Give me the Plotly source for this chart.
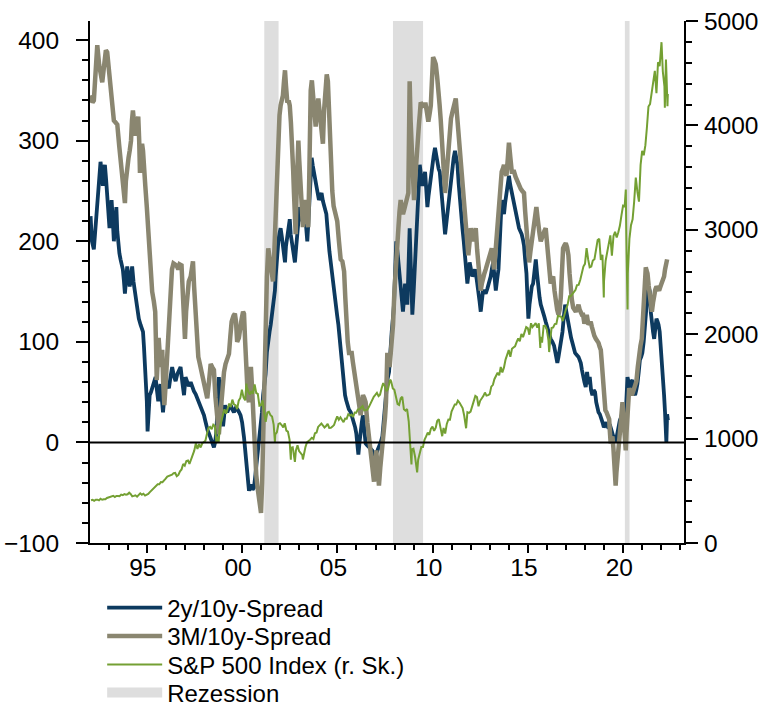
import plotly.graph_objects as go
from datetime import datetime

# ---------------- data ----------------
# 2y/10y spread (bp): (decimal year, value)
spread_2y10y = [
    (1992.05, 225), (1992.12, 200), (1992.22, 192), (1992.31, 217), (1992.4, 245), (1992.5, 262),
    (1992.57, 279), (1992.63, 270), (1992.69, 255), (1992.75, 268), (1992.8, 276), (1992.86, 262),
    (1992.92, 241), (1992.98, 230), (1993.04, 213), (1993.1, 228), (1993.15, 241), (1993.21, 222),
    (1993.27, 200), (1993.33, 215), (1993.4, 234), (1993.45, 210), (1993.5, 193), (1993.56, 188),
    (1993.62, 182), (1993.68, 176), (1993.74, 172), (1993.8, 160), (1993.85, 148), (1993.91, 162),
    (1993.97, 175), (1994.04, 165), (1994.1, 155), (1994.17, 165), (1994.23, 175), (1994.3, 160),
    (1994.375, 151), (1994.44, 140), (1994.5, 130), (1994.58, 123), (1994.67, 117), (1994.74, 113),
    (1994.8, 110), (1994.85, 95), (1994.9, 79), (1994.96, 60), (1995.0, 41), (1995.04, 11),
    (1995.1, 30), (1995.15, 47), (1995.22, 50), (1995.28, 54), (1995.36, 60), (1995.46, 65),
    (1995.53, 52), (1995.6, 41), (1995.66, 50), (1995.72, 58), (1995.78, 45), (1995.85, 30),
    (1995.92, 45), (1995.98, 61), (1996.07, 57), (1996.16, 54), (1996.25, 66), (1996.33, 75),
    (1996.42, 66), (1996.51, 61), (1996.6, 68), (1996.68, 72), (1996.77, 75), (1996.86, 60),
    (1996.95, 47), (1997.03, 65), (1997.12, 61), (1997.2, 56), (1997.3, 60), (1997.4, 54),
    (1997.47, 51), (1997.56, 48), (1997.65, 44), (1997.74, 40), (1997.82, 37), (1997.9, 32),
    (1998.0, 27), (1998.06, 22), (1998.12, 16), (1998.19, 12), (1998.26, 9), (1998.33, 5),
    (1998.4, 2), (1998.46, -2), (1998.52, -5), (1998.58, 0), (1998.64, 9), (1998.7, 30),
    (1998.75, 60), (1998.78, 65), (1998.83, 52), (1998.87, 47), (1998.94, 30), (1999.0, 16),
    (1999.05, 25), (1999.1, 37), (1999.16, 33), (1999.22, 30), (1999.3, 34), (1999.4, 37),
    (1999.48, 33), (1999.57, 30), (1999.66, 34), (1999.75, 33), (1999.84, 30), (1999.92, 27),
    (2000.0, 20), (2000.04, 16), (2000.1, 5), (2000.15, -5), (2000.21, -15), (2000.27, -25),
    (2000.32, -40), (2000.36, -48), (2000.42, -44), (2000.48, -42), (2000.55, -47), (2000.62, -45),
    (2000.68, -35), (2000.74, -25), (2000.8, -15), (2000.85, -8), (2000.92, 5), (2000.97, 13),
    (2001.04, 30), (2001.1, 47), (2001.17, 58), (2001.23, 68), (2001.3, 90), (2001.37, 103),
    (2001.44, 110), (2001.5, 117), (2001.56, 125), (2001.62, 134), (2001.68, 145), (2001.72, 151),
    (2001.76, 165), (2001.8, 179), (2001.85, 190), (2001.9, 200), (2001.96, 208), (2002.02, 213),
    (2002.08, 205), (2002.14, 196), (2002.2, 188), (2002.25, 179), (2002.3, 195), (2002.37, 207),
    (2002.44, 218), (2002.5, 222), (2002.55, 207), (2002.61, 200), (2002.67, 193), (2002.72, 186),
    (2002.77, 179), (2002.84, 195), (2002.9, 207), (2002.96, 220), (2003.02, 234), (2003.09, 228),
    (2003.16, 220), (2003.23, 224), (2003.3, 227), (2003.36, 214), (2003.42, 200), (2003.48, 220),
    (2003.54, 241), (2003.6, 265), (2003.65, 283), (2003.71, 275), (2003.77, 269), (2003.83, 262),
    (2003.89, 255), (2003.96, 248), (2004.03, 241), (2004.1, 245), (2004.17, 248), (2004.24, 240),
    (2004.3, 234), (2004.36, 230), (2004.42, 227), (2004.47, 215), (2004.52, 200), (2004.58, 190),
    (2004.65, 179), (2004.71, 168), (2004.77, 158), (2004.84, 147), (2004.91, 137), (2004.98, 127),
    (2005.05, 117), (2005.11, 103), (2005.17, 89), (2005.23, 78), (2005.29, 68), (2005.35, 57),
    (2005.4, 47), (2005.46, 42), (2005.52, 37), (2005.6, 33), (2005.7, 30), (2005.78, 25),
    (2005.87, 20), (2005.93, 15), (2005.99, 9), (2006.05, -2), (2006.1, -12), (2006.16, 0),
    (2006.22, 13), (2006.28, 20), (2006.34, 27), (2006.41, 12), (2006.48, -1), (2006.57, -3),
    (2006.66, -5), (2006.75, -7), (2006.83, -8), (2006.92, -13), (2007.01, -12), (2007.1, -8),
    (2007.18, -5), (2007.27, 0), (2007.36, 6), (2007.45, 25), (2007.53, 51), (2007.62, 62),
    (2007.71, 70), (2007.78, 95), (2007.85, 110), (2007.92, 125), (2007.97, 137), (2008.03, 170),
    (2008.09, 200), (2008.15, 190), (2008.2, 179), (2008.26, 168), (2008.32, 158), (2008.38, 144),
    (2008.44, 130), (2008.5, 144), (2008.55, 158), (2008.61, 148), (2008.67, 137), (2008.73, 175),
    (2008.79, 213), (2008.86, 170), (2008.93, 127), (2009.0, 150), (2009.07, 179), (2009.13, 196),
    (2009.2, 213), (2009.26, 245), (2009.32, 276), (2009.39, 265), (2009.46, 255), (2009.53, 262),
    (2009.6, 269), (2009.66, 252), (2009.72, 234), (2009.78, 245), (2009.84, 255), (2009.91, 265),
    (2009.98, 276), (2010.05, 285), (2010.12, 293), (2010.18, 285), (2010.25, 276), (2010.31, 272),
    (2010.37, 269), (2010.44, 252), (2010.51, 234), (2010.58, 220), (2010.65, 207), (2010.71, 217),
    (2010.77, 227), (2010.83, 241), (2010.89, 255), (2010.96, 265), (2011.03, 276), (2011.1, 283),
    (2011.17, 290), (2011.23, 283), (2011.3, 276), (2011.36, 258), (2011.42, 241), (2011.49, 227),
    (2011.56, 213), (2011.63, 200), (2011.7, 186), (2011.76, 172), (2011.82, 158), (2011.88, 168),
    (2011.94, 179), (2012.01, 172), (2012.08, 165), (2012.15, 168), (2012.22, 172), (2012.31, 162),
    (2012.4, 151), (2012.46, 140), (2012.52, 130), (2012.58, 140), (2012.64, 151), (2012.71, 150),
    (2012.78, 148), (2012.87, 153), (2012.96, 158), (2013.04, 165), (2013.1, 172), (2013.17, 179),
    (2013.24, 165), (2013.31, 151), (2013.38, 162), (2013.45, 172), (2013.52, 200), (2013.57, 220),
    (2013.62, 241), (2013.68, 234), (2013.74, 227), (2013.8, 238), (2013.87, 248), (2013.94, 258),
    (2014.0, 265), (2014.07, 256), (2014.15, 248), (2014.21, 241), (2014.27, 234), (2014.33, 230),
    (2014.39, 227), (2014.46, 220), (2014.53, 213), (2014.6, 210), (2014.67, 207), (2014.73, 202),
    (2014.79, 196), (2014.85, 182), (2014.92, 168), (2014.97, 145), (2015.02, 123), (2015.08, 137),
    (2015.14, 151), (2015.2, 155), (2015.27, 158), (2015.34, 170), (2015.41, 182), (2015.48, 167),
    (2015.55, 151), (2015.61, 144), (2015.67, 137), (2015.73, 134), (2015.79, 130), (2015.86, 125),
    (2015.93, 120), (2016.0, 115), (2016.07, 110), (2016.13, 106), (2016.19, 103), (2016.28, 100),
    (2016.37, 96), (2016.45, 88), (2016.54, 79), (2016.6, 85), (2016.67, 92), (2016.74, 100),
    (2016.81, 110), (2016.88, 125), (2016.95, 137), (2017.01, 130), (2017.07, 123), (2017.13, 116),
    (2017.19, 110), (2017.26, 104), (2017.33, 99), (2017.4, 94), (2017.47, 89), (2017.56, 87),
    (2017.65, 85), (2017.71, 82), (2017.77, 79), (2017.83, 72), (2017.89, 65), (2017.96, 60),
    (2018.03, 55), (2018.1, 70), (2018.17, 58), (2018.24, 65), (2018.31, 52), (2018.38, 47),
    (2018.45, 52), (2018.52, 50), (2018.58, 40), (2018.64, 33), (2018.7, 30), (2018.77, 28),
    (2018.84, 25), (2018.91, 20), (2018.98, 15), (2019.05, 18), (2019.11, 20), (2019.17, 16),
    (2019.23, 14), (2019.29, 18), (2019.36, 14), (2019.43, 10), (2019.5, 5), (2019.57, 0),
    (2019.63, 3), (2019.69, 10), (2019.76, 18), (2019.82, 22), (2019.89, 25), (2019.96, 30),
    (2020.03, 25), (2020.1, 20), (2020.16, 40), (2020.22, 65), (2020.28, 60), (2020.34, 54),
    (2020.41, 60), (2020.48, 62), (2020.55, 50), (2020.62, 47), (2020.68, 52), (2020.74, 58),
    (2020.81, 70), (2020.87, 82), (2020.94, 85), (2021.0, 89), (2021.07, 100), (2021.15, 120),
    (2021.21, 140), (2021.27, 148), (2021.33, 155), (2021.39, 150), (2021.44, 130), (2021.5, 117),
    (2021.56, 110), (2021.62, 103), (2021.68, 115), (2021.74, 123), (2021.8, 120), (2021.85, 117),
    (2021.91, 110), (2021.97, 95), (2022.02, 85), (2022.06, 72), (2022.1, 60), (2022.14, 47),
    (2022.19, 30), (2022.23, 12), (2022.26, 0), (2022.3, 28), (2022.34, 22),
]

# 3M/10y spread (bp): (decimal year, value)
spread_3m10y = [
    (1992.05, 345), (1992.15, 338), (1992.22, 340), (1992.3, 370), (1992.4, 395), (1992.5, 375),
    (1992.58, 365), (1992.66, 358), (1992.76, 375), (1992.85, 390), (1992.92, 388), (1993.0, 372),
    (1993.1, 355), (1993.18, 340), (1993.27, 320), (1993.36, 318), (1993.45, 316), (1993.55, 295),
    (1993.62, 280), (1993.72, 262), (1993.8, 245), (1993.85, 238), (1993.9, 260), (1993.97, 278),
    (1994.04, 283), (1994.1, 290), (1994.17, 300), (1994.22, 320), (1994.27, 330), (1994.33, 318),
    (1994.39, 305), (1994.44, 310), (1994.5, 320), (1994.55, 324), (1994.6, 300), (1994.64, 268),
    (1994.69, 282), (1994.75, 297), (1994.8, 290), (1994.85, 280), (1994.92, 255), (1995.0, 234),
    (1995.08, 210), (1995.16, 180), (1995.22, 160), (1995.28, 150), (1995.37, 140), (1995.44, 130),
    (1995.48, 100), (1995.52, 62), (1995.57, 80), (1995.62, 104), (1995.67, 90), (1995.72, 75),
    (1995.77, 88), (1995.81, 92), (1995.86, 60), (1995.92, 37), (1995.98, 55), (1996.04, 75),
    (1996.1, 105), (1996.16, 127), (1996.24, 160), (1996.32, 172), (1996.4, 178), (1996.48, 177),
    (1996.56, 176), (1996.65, 172), (1996.72, 177), (1996.82, 176), (1996.88, 140), (1996.95, 110),
    (1997.0, 103), (1997.06, 130), (1997.12, 150), (1997.2, 160), (1997.3, 165), (1997.42, 180),
    (1997.48, 155), (1997.56, 127), (1997.62, 100), (1997.7, 85), (1997.76, 80), (1997.82, 75),
    (1997.9, 68), (1998.0, 61), (1998.08, 52), (1998.17, 44), (1998.26, 60), (1998.35, 78),
    (1998.43, 75), (1998.52, 72), (1998.6, 45), (1998.7, 15), (1998.78, 8), (1998.87, 30),
    (1998.96, 54), (1999.05, 70), (1999.13, 78), (1999.22, 82), (1999.31, 88), (1999.38, 105),
    (1999.45, 120), (1999.55, 126), (1999.62, 128), (1999.68, 120), (1999.74, 100), (1999.83, 104),
    (1999.9, 118), (1999.97, 122), (2000.05, 130), (2000.1, 128), (2000.16, 100), (2000.22, 68),
    (2000.3, 45), (2000.36, 40), (2000.42, 58), (2000.46, 75), (2000.52, 55), (2000.58, 25),
    (2000.62, 6), (2000.68, -15), (2000.74, -32), (2000.81, -45), (2000.88, -57), (2000.94, -65),
    (2000.99, -70), (2001.05, -40), (2001.1, 10), (2001.15, 61), (2001.2, 100), (2001.25, 125),
    (2001.3, 165), (2001.37, 193), (2001.43, 186), (2001.5, 180), (2001.56, 170), (2001.62, 160),
    (2001.68, 185), (2001.74, 220), (2001.78, 240), (2001.84, 280), (2001.9, 305), (2001.96, 325),
    (2002.02, 335), (2002.08, 340), (2002.14, 345), (2002.2, 360), (2002.25, 370), (2002.3, 355),
    (2002.37, 338), (2002.44, 340), (2002.5, 335), (2002.56, 318), (2002.62, 300), (2002.68, 270),
    (2002.72, 248), (2002.77, 220), (2002.81, 207), (2002.86, 250), (2002.9, 285), (2002.95, 300),
    (2003.0, 280), (2003.07, 259), (2003.13, 238), (2003.19, 214), (2003.26, 230), (2003.33, 241),
    (2003.4, 225), (2003.47, 214), (2003.52, 260), (2003.56, 320), (2003.6, 350), (2003.66, 360),
    (2003.72, 345), (2003.79, 330), (2003.86, 314), (2003.93, 330), (2004.0, 342), (2004.06, 330),
    (2004.12, 317), (2004.18, 300), (2004.24, 297), (2004.3, 330), (2004.38, 362), (2004.44, 366),
    (2004.5, 359), (2004.55, 335), (2004.59, 307), (2004.66, 275), (2004.73, 250), (2004.8, 235),
    (2004.87, 227), (2004.93, 222), (2004.99, 220), (2005.08, 200), (2005.17, 182), (2005.26, 180),
    (2005.35, 170), (2005.41, 145), (2005.47, 115), (2005.54, 100), (2005.61, 89), (2005.68, 89),
    (2005.75, 89), (2005.81, 80), (2005.87, 72), (2005.96, 58), (2006.05, 47), (2006.13, 37),
    (2006.22, 27), (2006.28, 38), (2006.34, 47), (2006.41, 44), (2006.48, 40), (2006.57, 20),
    (2006.66, 2), (2006.73, -6), (2006.8, -15), (2006.86, -28), (2006.92, -39), (2006.98, -20),
    (2007.04, -8), (2007.11, -25), (2007.18, -43), (2007.25, -25), (2007.32, -12), (2007.4, 0),
    (2007.45, 6), (2007.5, 25), (2007.55, 40), (2007.6, 80), (2007.62, 89), (2007.68, 80),
    (2007.74, 75), (2007.8, 89), (2007.86, 100), (2007.92, 117), (2007.99, 150), (2008.06, 179),
    (2008.13, 195), (2008.2, 213), (2008.26, 230), (2008.32, 241), (2008.38, 234), (2008.44, 227),
    (2008.51, 232), (2008.58, 238), (2008.65, 243), (2008.72, 248), (2008.76, 310), (2008.79, 359),
    (2008.84, 320), (2008.9, 283), (2008.96, 260), (2009.02, 241), (2009.08, 262), (2009.14, 283),
    (2009.21, 300), (2009.28, 317), (2009.33, 328), (2009.37, 338), (2009.43, 336), (2009.49, 335),
    (2009.56, 336), (2009.63, 336), (2009.7, 328), (2009.77, 319), (2009.84, 327), (2009.9, 335),
    (2009.96, 360), (2010.02, 383), (2010.09, 380), (2010.16, 376), (2010.23, 364), (2010.3, 352),
    (2010.36, 336), (2010.42, 321), (2010.48, 302), (2010.54, 283), (2010.6, 265), (2010.65, 248),
    (2010.71, 262), (2010.77, 276), (2010.83, 296), (2010.89, 317), (2010.96, 322), (2011.03, 328),
    (2011.12, 335), (2011.21, 342), (2011.28, 325), (2011.35, 307), (2011.41, 293), (2011.47, 279),
    (2011.53, 269), (2011.59, 259), (2011.66, 236), (2011.73, 213), (2011.8, 200), (2011.87, 186),
    (2011.94, 200), (2012.0, 213), (2012.06, 206), (2012.12, 200), (2012.19, 206), (2012.26, 213),
    (2012.33, 192), (2012.4, 172), (2012.46, 162), (2012.52, 151), (2012.58, 158), (2012.64, 165),
    (2012.71, 168), (2012.78, 172), (2012.87, 178), (2012.96, 185), (2013.03, 190), (2013.1, 193),
    (2013.16, 182), (2013.22, 172), (2013.28, 186), (2013.34, 200), (2013.41, 220), (2013.48, 241),
    (2013.55, 255), (2013.62, 269), (2013.68, 272), (2013.74, 276), (2013.8, 270), (2013.87, 265),
    (2013.94, 282), (2014.0, 298), (2014.07, 284), (2014.15, 269), (2014.21, 269), (2014.27, 269),
    (2014.35, 264), (2014.44, 259), (2014.53, 255), (2014.62, 252), (2014.7, 250), (2014.79, 248),
    (2014.85, 230), (2014.92, 210), (2014.99, 195), (2015.06, 179), (2015.13, 190), (2015.2, 200),
    (2015.26, 206), (2015.32, 213), (2015.38, 224), (2015.44, 234), (2015.5, 224), (2015.55, 213),
    (2015.61, 207), (2015.67, 200), (2015.73, 204), (2015.79, 207), (2015.86, 210), (2015.93, 213),
    (2016.0, 196), (2016.07, 179), (2016.13, 168), (2016.19, 158), (2016.25, 162), (2016.32, 165),
    (2016.39, 151), (2016.46, 137), (2016.53, 132), (2016.6, 127), (2016.66, 132), (2016.72, 144),
    (2016.78, 170), (2016.84, 193), (2016.91, 196), (2016.98, 198), (2017.05, 194), (2017.12, 186),
    (2017.18, 168), (2017.24, 151), (2017.3, 142), (2017.37, 134), (2017.44, 132), (2017.51, 130),
    (2017.58, 133), (2017.65, 137), (2017.71, 132), (2017.77, 127), (2017.83, 127), (2017.89, 127),
    (2017.96, 118), (2018.03, 125), (2018.1, 125), (2018.17, 117), (2018.23, 120), (2018.29, 120),
    (2018.35, 115), (2018.41, 110), (2018.48, 106), (2018.56, 103), (2018.63, 101), (2018.7, 99),
    (2018.76, 95), (2018.82, 92), (2018.87, 80), (2018.91, 68), (2018.96, 45), (2019.0, 33),
    (2019.06, 32), (2019.12, 30), (2019.19, 27), (2019.26, 23), (2019.3, 10), (2019.34, -1),
    (2019.39, 3), (2019.43, 6), (2019.48, -5), (2019.52, -15), (2019.56, -30), (2019.6, -43),
    (2019.64, -30), (2019.69, -19), (2019.74, -5), (2019.78, 6), (2019.83, 10), (2019.87, 13),
    (2019.92, 28), (2019.96, 40), (2020.0, 28), (2020.04, 13), (2020.09, 0), (2020.13, -8),
    (2020.17, 10), (2020.22, 33), (2020.27, 45), (2020.31, 54), (2020.38, 50), (2020.45, 47),
    (2020.51, 50), (2020.57, 54), (2020.63, 58), (2020.69, 61), (2020.76, 75), (2020.83, 89),
    (2020.9, 96), (2020.97, 103), (2021.03, 125), (2021.09, 144), (2021.14, 160), (2021.18, 174),
    (2021.22, 171), (2021.27, 168), (2021.33, 156), (2021.39, 144), (2021.44, 137), (2021.5, 130),
    (2021.56, 139), (2021.62, 148), (2021.68, 152), (2021.74, 155), (2021.81, 153), (2021.88, 151),
    (2021.95, 155), (2022.02, 158), (2022.08, 162), (2022.14, 165), (2022.19, 172), (2022.23, 179),
    (2022.3, 182),
]

# S&P 500 index, month-end levels (right scale)
sp500_monthly = {
    1992: [409, 413, 404, 415, 415, 408, 424, 414, 418, 419, 431, 436],
    1993: [439, 443, 452, 440, 450, 451, 448, 464, 459, 468, 462, 467],
    1994: [482, 467, 446, 451, 457, 444, 458, 476, 463, 472, 454, 459],
    1995: [470, 487, 501, 515, 533, 545, 562, 562, 584, 582, 605, 616],
    1996: [636, 640, 646, 654, 669, 671, 640, 652, 687, 705, 757, 741],
    1997: [786, 791, 757, 801, 848, 885, 954, 900, 947, 915, 955, 970],
    1998: [980, 1049, 1102, 1112, 1091, 1134, 1121, 957, 1017, 1099, 1164, 1229],
    1999: [1280, 1238, 1286, 1335, 1302, 1373, 1329, 1320, 1283, 1363, 1389, 1469],
    2000: [1395, 1366, 1499, 1452, 1421, 1455, 1431, 1518, 1437, 1429, 1315, 1320],
    2001: [1366, 1240, 1160, 1250, 1256, 1224, 1211, 1134, 1041, 1060, 1140, 1148],
    2002: [1130, 1107, 1147, 1077, 1067, 990, 912, 916, 815, 886, 936, 880],
    2003: [856, 841, 848, 917, 964, 975, 990, 1008, 996, 1051, 1058, 1112],
    2004: [1131, 1145, 1126, 1107, 1121, 1141, 1102, 1104, 1115, 1130, 1174, 1212],
    2005: [1181, 1204, 1181, 1157, 1192, 1191, 1234, 1220, 1229, 1207, 1250, 1248],
    2006: [1280, 1281, 1295, 1311, 1270, 1270, 1277, 1304, 1336, 1378, 1401, 1418],
    2007: [1438, 1407, 1421, 1482, 1531, 1503, 1455, 1474, 1527, 1549, 1481, 1468],
    2008: [1379, 1331, 1323, 1386, 1400, 1280, 1267, 1283, 1166, 969, 896, 903],
    2009: [826, 735, 798, 873, 919, 919, 988, 1021, 1057, 1036, 1096, 1115],
    2010: [1074, 1105, 1169, 1187, 1089, 1031, 1102, 1049, 1141, 1183, 1181, 1258],
    2011: [1286, 1327, 1326, 1364, 1345, 1321, 1292, 1219, 1131, 1253, 1247, 1258],
    2012: [1312, 1366, 1409, 1398, 1310, 1362, 1379, 1407, 1441, 1412, 1416, 1426],
    2013: [1498, 1515, 1569, 1598, 1631, 1606, 1686, 1633, 1682, 1757, 1806, 1848],
    2014: [1783, 1860, 1872, 1884, 1924, 1960, 1931, 2003, 1972, 2018, 2068, 2059],
    2015: [1995, 2105, 2068, 2086, 2107, 2063, 2104, 1972, 1920, 2079, 2080, 2044],
    2016: [1940, 1932, 2060, 2065, 2097, 2099, 2174, 2171, 2168, 2126, 2199, 2239],
    2017: [2279, 2364, 2363, 2384, 2412, 2423, 2470, 2472, 2519, 2575, 2648, 2674],
    2018: [2824, 2714, 2641, 2648, 2705, 2718, 2816, 2902, 2914, 2712, 2760, 2507],
    2019: [2704, 2785, 2834, 2946, 2752, 2942, 2980, 2927, 2977, 3038, 3141, 3231],
    2020: [3226, 2954, 2585, 2912, 3044, 3100, 3271, 3500, 3363, 3270, 3622, 3756],
    2021: [3714, 3811, 3973, 4181, 4204, 4298, 4395, 4523, 4308, 4605, 4567, 4766],
    2022: [4516, 4374, 4530],
}
# S&P 500 intramonth extremes visible in the chart
sp500_extra = [
    ("1998-10-08", 959), ("2000-03-24", 1527), ("2001-09-21", 966), ("2002-07-23", 797),
    ("2002-10-09", 777), ("2003-03-11", 800), ("2007-10-09", 1565), ("2008-11-20", 752),
    ("2009-03-09", 677), ("2010-07-02", 1023), ("2011-10-03", 1099), ("2015-08-25", 1868),
    ("2016-02-11", 1829), ("2018-12-24", 2351), ("2020-02-19", 3386), ("2020-03-23", 2237),
    ("2022-01-03", 4797), ("2022-03-08", 4170), ("2022-03-29", 4632), ("2022-04-08", 4488),
    ("2022-04-27", 4183), ("2022-05-04", 4300),
]

# recessions (start, end)
recessions = [("2001-03-01", "2001-11-30"), ("2007-12-01", "2009-06-30"), ("2020-02-01", "2020-04-30")]

labels = ["2y/10y-Spread", "3M/10y-Spread", "S&P 500 Index (r. Sk.)", "Rezession"]
colors = ["#0d3a5f", "#8a8670", "#74a033", "#dedede"]

LEFT_RANGE = [-100, 419]
RIGHT_RANGE = [0, 5000]


def dec_year(y):
    yi = int(y // 1)
    a = datetime(yi, 1, 1)
    b = datetime(yi + 1, 1, 1)
    return a + (b - a) * (y - yi)


# ---------------- figure ----------------
fig = go.Figure()

# recession shading
rx, ry = [], []
for s, e in recessions:
    rx += [s, s, e, e, s, None]
    ry += [LEFT_RANGE[0], LEFT_RANGE[1], LEFT_RANGE[1], LEFT_RANGE[0], LEFT_RANGE[0], None]
fig.add_trace(go.Scatter(x=rx, y=ry, mode="lines", fill="toself", fillcolor=colors[3],
                         line=dict(width=0, color=colors[3]), hoverinfo="skip", showlegend=False))

fig.add_trace(go.Scatter(x=[dec_year(t) for t, v in spread_2y10y], y=[v for t, v in spread_2y10y],
                         mode="lines", name=labels[0], legend="legend",
                         line=dict(color=colors[0], width=3.8)))
fig.add_trace(go.Scatter(x=[dec_year(t) for t, v in spread_3m10y], y=[v for t, v in spread_3m10y],
                         mode="lines", name=labels[1], legend="legend2",
                         line=dict(color=colors[1], width=4.5)))

sp_pts = []
for yr, vals in sp500_monthly.items():
    for m, v in enumerate(vals):
        sp_pts.append((datetime(yr, m + 1, 28), v))
for d, v in sp500_extra:
    sp_pts.append((datetime.strptime(d, "%Y-%m-%d"), v))
sp_pts.sort()
fig.add_trace(go.Scatter(x=[d for d, v in sp_pts], y=[v for d, v in sp_pts], yaxis="y2",
                         mode="lines", name=labels[2], legend="legend3",
                         line=dict(color=colors[2], width=2)))

# legend entry for recessions
fig.add_trace(go.Scatter(x=[None], y=[None], mode="lines", name=labels[3], legend="legend4",
                         line=dict(color=colors[3], width=14)))

fig.add_hline(y=0, line=dict(color="black", width=2), layer="above")

axis_common = dict(showline=True, linecolor="black", linewidth=2, ticks="outside", tickcolor="black",
                   tickwidth=2, showgrid=False, zeroline=False, automargin=False)

H = 706
legend_rows = [608, 636.5, 665, 693]


def legend_box(row_y):
    return dict(x=0.0205, xref="paper", y=1 - row_y / H, yref="container",
                xanchor="left", yanchor="middle", orientation="v",
                font=dict(size=24, color="black"), itemwidth=55, tracegroupgap=0,
                bgcolor="rgba(0,0,0,0)", borderwidth=0)


fig.update_layout(
    template="none",
    width=765, height=H,
    margin=dict(l=90, r=81, t=21, b=163, pad=0),
    paper_bgcolor="white", plot_bgcolor="white",
    font=dict(family="Liberation Sans, Arial, sans-serif", size=24.5, color="black"),
    showlegend=True,
    legend=legend_box(legend_rows[0]),
    legend2=legend_box(legend_rows[1]),
    legend3=legend_box(legend_rows[2]),
    legend4=legend_box(legend_rows[3]),
    xaxis=dict(type="date", range=["1992-01-08", "2023-03-10"], ticklen=8, dtick="M60",
               tick0="1995-01-01", tickformat="%y", ticklabelshift=-4, ticklabelstandoff=-6,
               minor=dict(ticks="outside", ticklen=5, tickwidth=2, tickcolor="black",
                          dtick="M12", tick0="1992-01-01", showgrid=False),
               **axis_common),
    yaxis=dict(range=LEFT_RANGE, dtick=100, tick0=0, ticklen=12, ticklabelstandoff=12,
               minor=dict(ticks="outside", ticklen=6, tickwidth=2, tickcolor="black",
                          dtick=20, tick0=0, showgrid=False),
               **axis_common),
    yaxis2=dict(range=RIGHT_RANGE, dtick=1000, tick0=0, ticklen=12, overlaying="y", side="right",
                ticklabelstandoff=1,
                minor=dict(ticks="outside", ticklen=6, tickwidth=2, tickcolor="black",
                           dtick=200, tick0=0, showgrid=False),
                **axis_common),
    hovermode=False,
)

fig.write_html("out.html", config={"displayModeBar": False},
               post_script="document.body.style.margin='0';")
